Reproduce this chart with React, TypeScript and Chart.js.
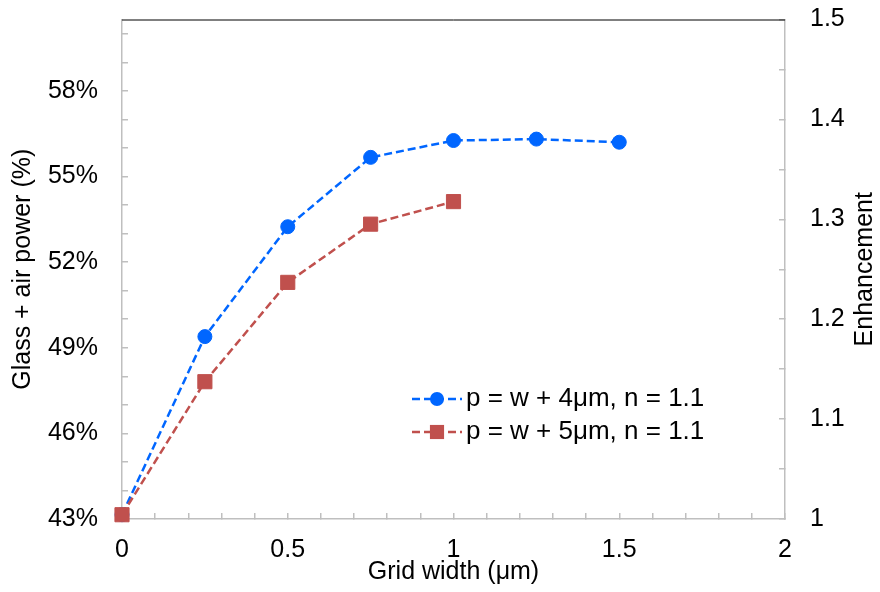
import React, { useEffect, useRef } from 'react';
import { Chart, registerables } from 'chart.js';

Chart.register(...registerables);

// ---- data ----
const gridWidth4 = [0, 0.25, 0.5, 0.75, 1, 1.25, 1.5];
const power4 = [0.4315, 0.4939, 0.5324, 0.5567, 0.5626, 0.5631, 0.562];
const label4 = 'p = w + 4μm, n = 1.1';

const gridWidth5 = [0, 0.25, 0.5, 0.75, 1];
const power5 = [0.4315, 0.4781, 0.5129, 0.5333, 0.5412];
const label5 = 'p = w + 5μm, n = 1.1';

// ---- axes ----
const xMin = 0;
const xMax = 2;
const xMinorStep = 0.1;
const xLabelStep = 0.5;

const powerMin = 0.43;
const powerMax = 0.605;
const powerTickMax = 0.6;
const powerMinorStep = 0.01;
const powerLabelStep = 0.03;

const enhMin = 1;
const enhMax = 1.5;
const enhMinorStep = 0.05;
const enhLabelStep = 0.1;

const xTitle = 'Grid width (μm)';
const yTitle = 'Glass + air power (%)';
const y1Title = 'Enhancement';

const FONT = "'Liberation Sans', Arial, sans-serif";
const FONT_SIZE = 25;
const LEGEND_FONT_SIZE = 26;
const AXIS_GRAY = '#BFBFBF';
const BLUE = '#0066FF';
const RED = '#C0504D';

function makeTicks(min: number, max: number, step: number) {
  const n = Math.round((max - min) / step);
  return Array.from({ length: n + 1 }, (_, i) => ({ value: +(min + i * step).toFixed(4) }));
}

function isMultiple(v: number, base: number, step: number) {
  const q = (v - base) / step;
  return Math.abs(q - Math.round(q)) < 1e-6;
}

const extrasPlugin = {
  id: 'extras',
  afterDraw(chart: any) {
    const { ctx, chartArea } = chart;
    ctx.save();
    // top border line
    ctx.strokeStyle = '#000';
    ctx.lineWidth = 1;
    ctx.beginPath();
    ctx.moveTo(chartArea.left, chartArea.top + 0.5);
    ctx.lineTo(chartArea.right, chartArea.top + 0.5);
    ctx.stroke();

    // right axis title (reads bottom to top)
    ctx.fillStyle = '#000';
    ctx.font = `${FONT_SIZE}px ${FONT}`;
    ctx.textAlign = 'center';
    ctx.textBaseline = 'middle';
    ctx.translate(865, (chartArea.top + chartArea.bottom) / 2);
    ctx.rotate(-Math.PI / 2);
    ctx.fillText(y1Title, 0, 0);
    ctx.restore();

    // legend
    ctx.save();
    const rows = [399, 432];
    chart.data.datasets.forEach((ds: any, i: number) => {
      const y = rows[i];
      const x0 = 412;
      const x1 = 462;
      ctx.strokeStyle = ds.borderColor;
      ctx.lineWidth = ds.borderWidth;
      ctx.setLineDash(ds.borderDash);
      ctx.beginPath();
      ctx.moveTo(x0, y);
      ctx.lineTo(x1, y);
      ctx.stroke();
      ctx.setLineDash([]);
      ctx.fillStyle = ds.backgroundColor;
      const cx = (x0 + x1) / 2;
      if (ds.pointStyle === 'rect') {
        const s = ds.pointRadius * Math.SQRT1_2;
        ctx.fillRect(cx - s, y - s, 2 * s, 2 * s);
      } else {
        ctx.beginPath();
        ctx.arc(cx, y, ds.pointRadius, 0, Math.PI * 2);
        ctx.fill();
      }
      ctx.fillStyle = '#000';
      ctx.font = `${LEGEND_FONT_SIZE}px ${FONT}`;
      ctx.textAlign = 'left';
      ctx.textBaseline = 'middle';
      ctx.fillText(ds.label, 466, y);
    });
    ctx.restore();
  },
};

export default function App() {
  const canvasRef = useRef<HTMLCanvasElement | null>(null);

  useEffect(() => {
    const canvas = canvasRef.current;
    if (!canvas) return;
    const tickFont = { family: FONT, size: FONT_SIZE };
    const chart = new Chart(canvas, {
      type: 'line',
      data: {
        datasets: [
          {
            label: label4,
            data: gridWidth4.map((x, i) => ({ x, y: power4[i] })),
            borderColor: BLUE,
            backgroundColor: BLUE,
            borderWidth: 2.5,
            borderDash: [8, 4],
            pointStyle: 'circle',
            pointRadius: 7,
            pointBorderWidth: 1,
            pointBorderColor: BLUE,
            pointBackgroundColor: BLUE,
            yAxisID: 'y',
            clip: false,
            order: 1,
          } as any,
          {
            label: label5,
            data: gridWidth5.map((x, i) => ({ x, y: power5[i] })),
            borderColor: RED,
            backgroundColor: RED,
            borderWidth: 2.5,
            borderDash: [8, 4],
            pointStyle: 'rect',
            pointRadius: 10,
            pointBorderWidth: 1,
            pointBorderColor: RED,
            pointBackgroundColor: RED,
            yAxisID: 'y',
            clip: false,
            order: 0,
          } as any,
        ],
      },
      options: {
        animation: false,
        responsive: false,
        layout: { padding: { top: 19.5, left: 0, right: 0, bottom: 0 } },
        plugins: { legend: { display: false }, tooltip: { enabled: false } },
        scales: {
          x: {
            type: 'linear',
            position: 'bottom',
            min: xMin,
            max: xMax,
            afterBuildTicks: (s: any) => {
              s.ticks = makeTicks(xMin, xMax, xMinorStep);
            },
            afterFit: (s: any) => {
              s.height = 73;
              s.paddingLeft = 0;
              s.paddingRight = 0;
            },
            grid: { drawOnChartArea: false, drawTicks: true, tickLength: -6, color: AXIS_GRAY, lineWidth: 1.5 },
            border: { display: true, color: AXIS_GRAY, width: 1.5 },
            ticks: {
              autoSkip: false,
              maxRotation: 0,
              padding: 22,
              color: '#000',
              font: tickFont,
              callback: (v: any) => (isMultiple(+v, xMin, xLabelStep) ? `${+(+v).toFixed(2)}` : ''),
            },
            title: { display: true, text: xTitle, color: '#000', font: tickFont, padding: { top: 0, bottom: 5 } },
          },
          y: {
            type: 'linear',
            position: 'left',
            min: powerMin,
            max: powerMax,
            afterBuildTicks: (s: any) => {
              s.ticks = makeTicks(powerMin, powerTickMax, powerMinorStep);
            },
            afterFit: (s: any) => {
              s.width = 122;
              s.paddingTop = 0;
              s.paddingBottom = 0;
            },
            grid: { drawOnChartArea: false, drawTicks: true, tickLength: -6, color: AXIS_GRAY, lineWidth: 1.5 },
            border: { display: true, color: AXIS_GRAY, width: 1.5 },
            ticks: {
              autoSkip: false,
              padding: 30,
              color: '#000',
              font: tickFont,
              callback: (v: any) => (isMultiple(+v, powerMin, powerLabelStep) ? `${Math.round(+v * 100)}%` : ''),
            },
            title: { display: true, text: yTitle, color: '#000', font: tickFont, padding: { top: 8.5, bottom: 0 } },
          },
          y1: {
            type: 'linear',
            position: 'right',
            min: enhMin,
            max: enhMax,
            afterBuildTicks: (s: any) => {
              s.ticks = makeTicks(enhMin, enhMax, enhMinorStep);
            },
            afterFit: (s: any) => {
              s.width = 95;
              s.paddingTop = 0;
              s.paddingBottom = 0;
            },
            grid: { drawOnChartArea: false, drawTicks: true, tickLength: -6, color: AXIS_GRAY, lineWidth: 1.5 },
            border: { display: true, color: AXIS_GRAY, width: 1.5 },
            ticks: {
              autoSkip: false,
              padding: 31,
              color: '#000',
              font: tickFont,
              callback: (v: any) => (isMultiple(+v, enhMin, enhLabelStep) ? `${+(+v).toFixed(2)}` : ''),
            },
            title: { display: false },
          },
        },
      } as any,
      plugins: [extrasPlugin],
    });
    return () => chart.destroy();
  }, []);

  return (
    <div style={{ position: 'absolute', left: 0, top: 0, width: 880, height: 592, background: '#fff' }}>
      <canvas ref={canvasRef} width={880} height={592} style={{ width: 880, height: 592, display: 'block' }} />
    </div>
  );
}
